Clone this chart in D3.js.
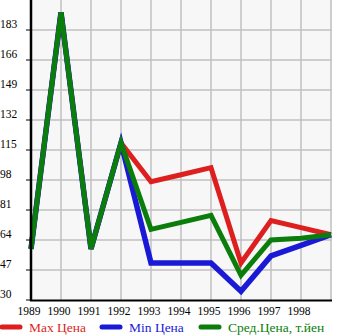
<!DOCTYPE html>
<html><head><meta charset="utf-8">
<script src="https://cdn.jsdelivr.net/npm/d3@7"></script>
<style>body{margin:0;background:#fff}svg{display:block}</style>
</head><body>
<script>
const years = [1989,1990,1991,1992,1993,1994,1995,1996,1997,1998,1999];
const yearLabels = [1989,1990,1991,1992,1993,1994,1995,1996,1997,1998];
const yTicks = [30,47,64,81,98,115,132,149,166,183];
const maxPrice = [59,193,59,119,97,101,105,51,75,71,67];
const minPrice = [59,193,59,119,51,51,51,35,55,61,67];
const avgPrice = [59,193,59,119,70,74,78,44,64,65,67];
const seriesNames = ["Max Цена","Min Цена","Сред.Цена, т.йен"];
const seriesColors = ["#dd1f1f","#1a1ad6","#0a7d0a"];

const W=345,H=335, L=31, R=331, T=0, B=300;
const svg=d3.select("body").append("svg").attr("width",W).attr("height",H);
const x=d3.scaleLinear().domain([1989,1999]).range([L,R]);
const y=d3.scaleLinear().domain([30,200]).range([B,T]);

svg.append("rect").attr("x",L).attr("y",T).attr("width",R-L+1).attr("height",B-T).attr("fill","#f7f7f7");
const g=svg.append("g");
years.slice(1).forEach(v=>g.append("line").attr("x1",x(v)).attr("x2",x(v)).attr("y1",T).attr("y2",B).attr("stroke","#c0c0c0").attr("stroke-width",1.5));
yTicks.slice(1).forEach(v=>g.append("line").attr("x1",L).attr("x2",R+1).attr("y1",y(v)).attr("y2",y(v)).attr("stroke","#c0c0c0").attr("stroke-width",1.5));

const line=d3.line().x((d,i)=>x(years[i])).y(d=>y(d));
const data=[maxPrice,minPrice,avgPrice];
data.forEach((s,i)=>svg.append("path").attr("d",line(s)).attr("fill","none")
  .attr("stroke",seriesColors[i]).attr("stroke-width",i===1?5.5:5).attr("stroke-linejoin","miter"));

// axes
svg.append("line").attr("x1",L).attr("x2",L).attr("y1",T).attr("y2",B+1).attr("stroke","#000").attr("stroke-width",2.5);
svg.append("line").attr("x1",L-1).attr("x2",R+1).attr("y1",B+0.5).attr("y2",B+0.5).attr("stroke","#000").attr("stroke-width",2);
const font="'Liberation Serif','Times New Roman',serif";
yTicks.forEach(v=>{
  svg.append("line").attr("x1",L-5).attr("x2",L).attr("y1",y(v)).attr("y2",y(v)).attr("stroke","#000").attr("stroke-width",1);
  svg.append("text").attr("x",0).attr("y",y(v)-2).attr("font-family",font).attr("font-size",11.5).attr("fill","#000").text(v);
});
yearLabels.forEach(v=>svg.append("text").attr("x",x(v)-2).attr("y",315).attr("text-anchor","middle")
  .attr("font-family",font).attr("font-size",11.5).attr("fill","#000").text(v));

// legend
const lx=[0,100,199];
seriesNames.forEach((n,i)=>{
  svg.append("line").attr("x1",lx[i]+2).attr("x2",lx[i]+20).attr("y1",327).attr("y2",327)
    .attr("stroke",seriesColors[i]).attr("stroke-width",5).attr("stroke-linecap","round");
  svg.append("text").attr("x",lx[i]+29).attr("y",331.5).attr("font-family",font).attr("font-size",13.5)
    .attr("fill",seriesColors[i]).text(n);
});
</script>
</body></html>
